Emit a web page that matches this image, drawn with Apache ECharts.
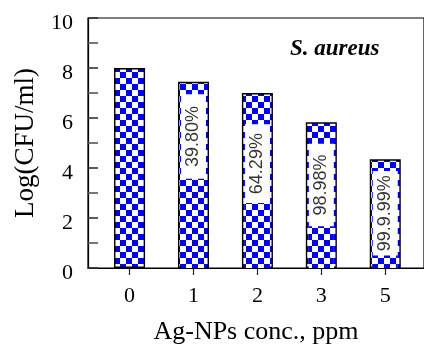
<!DOCTYPE html>
<html><head><meta charset="utf-8">
<script src="https://cdn.jsdelivr.net/npm/echarts@6/dist/echarts.min.js"></script>
<style>html,body{margin:0;padding:0;background:#fff}#c{width:424px;height:350px}</style>
</head><body><div id="c"></div>
<script>
const categories = ['0', '1', '2', '3', '5'];
const logCFU = [8.0, 7.45, 7.0, 5.83, 4.35];
const labelLow = [null, 3.57, 2.6, 1.67, 0.5];
const labelHigh = [null, 6.95, 5.75, 4.97, 3.88];
const reductions = ['', '39.80%', '64.29%', '98.98%', '99.9.99%'];
const yTickValues = [0, 2, 4, 6, 8, 10];

const positions = categories.map((c, i) => i);

const cv = document.createElement('canvas');
cv.width = 12; cv.height = 12;
const g = cv.getContext('2d');
g.fillStyle = '#ffffff'; g.fillRect(0, 0, 12, 12);
g.fillStyle = '#0000ff'; g.fillRect(0, 0, 6, 6); g.fillRect(6, 6, 6, 6);
const checker = { image: cv, repeat: 'repeat' };

const withBox = positions.filter((p, i) => labelLow[i] != null);

const chart = echarts.init(document.getElementById('c'));
const serif = 'Liberation Serif';
const xMin = -0.65, xMax = 4.606;
chart.setOption({
  animation: false,
  grid: { left: 88, top: 18, bottom: 74, right: -3, show: true, borderColor: '#000', borderWidth: 1.2 },
  xAxis: [{
    type: 'value', min: xMin, max: xMax,
    name: 'Ag-NPs conc., ppm', nameLocation: 'middle', nameGap: 51,
    nameTextStyle: { fontFamily: serif, fontSize: 26, color: '#000' },
    splitLine: { show: false },
    axisLine: { onZero: false, lineStyle: { color: '#000', width: 1.2 } },
    axisTick: { customValues: positions, length: 7, lineStyle: { color: '#222', width: 1.2 } },
    axisLabel: { customValues: positions, formatter: v => categories[Math.round(v)], margin: 17,
      fontFamily: serif, fontSize: 22, color: '#000' }
  }, {
    type: 'value', min: xMin, max: xMax, show: false, splitLine: { show: false }
  }],
  yAxis: {
    type: 'value', min: 0, max: 10, interval: 2,
    name: 'Log(CFU/ml)', nameLocation: 'middle', nameGap: 49,
    nameTextStyle: { fontFamily: serif, fontSize: 27, color: '#000' },
    splitLine: { show: false },
    axisLine: { show: true, onZero: false, lineStyle: { color: '#000', width: 1.2 } },
    axisTick: { show: true, inside: true, length: 10, lineStyle: { color: '#333', width: 1.6 } },
    minorTick: { show: true, splitNumber: 2, length: 10, lineStyle: { color: '#555', width: 1.6 } },
    axisLabel: { margin: 15, fontFamily: serif, fontSize: 22, color: '#000',
      verticalAlign: 'top', lineHeight: 10,
      formatter: v => yTickValues.includes(v) ? String(v) : '' }
  },
  graphic: [{
    type: 'text', left: 290, top: 38,
    style: { text: 'S. aureus', font: 'italic bold 23px "Liberation Serif"', fill: '#000' }
  }],
  series: [{
    type: 'bar', xAxisIndex: 0, barWidth: 31,
    data: positions.map((p, i) => [p, logCFU[i]]),
    itemStyle: { color: checker, borderColor: '#000', borderWidth: 1.4 }
  }, {
    type: 'bar', xAxisIndex: 1, barWidth: 25, silent: true,
    data: withBox.map(p => [p, labelHigh[p]]),
    itemStyle: { color: '#ffffff' }
  }, {
    type: 'bar', xAxisIndex: 1, barWidth: 25, barGap: '-100%', silent: true,
    data: withBox.map(p => [p, labelLow[p]]),
    itemStyle: { color: checker }
  }, {
    type: 'scatter', xAxisIndex: 0, symbolSize: 0, silent: true,
    data: withBox.map(p => [p, (labelLow[p] + labelHigh[p]) / 2]),
    label: { show: true, position: 'inside', rotate: 90,
      formatter: q => reductions[withBox[q.dataIndex]],
      fontFamily: 'Liberation Sans', fontSize: 18, color: '#000' }
  }]
});
</script></body></html>
